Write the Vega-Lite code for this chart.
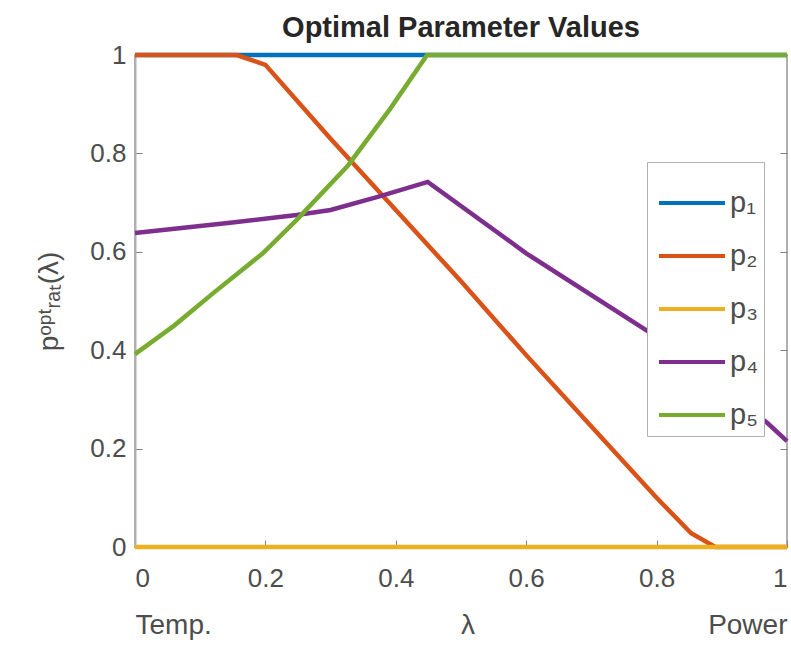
{
  "$schema": "https://vega.github.io/schema/vega-lite/v6.json",
  "width": 652,
  "height": 492,
  "autosize": {"type": "none"},
  "padding": {"left": 135, "top": 55, "right": 4, "bottom": 103},
  "background": "white",
  "title": {"text": "Optimal Parameter Values", "fontSize": 29, "fontWeight": "bold", "font": "Liberation Sans", "color": "#262626", "offset": -1, "anchor": "middle"},
  "config": {
    "view": {"stroke": "#b0b0b0", "strokeWidth": 2},
    "font": "Liberation Sans",
    "axis": {"grid": false, "labelFont": "Liberation Sans", "titleFont": "Liberation Sans", "labelColor": "#4d4d4d", "titleColor": "#4d4d4d", "domainColor": "#b0b0b0", "domainWidth": 2, "tickColor": "#808080", "labelFontSize": 26, "titleFontSize": 26, "titleFontWeight": "normal"}
  },
  "data": {"values": [
    {"lam": 0, "val": 1, "series": "p₁"},
    {"lam": 1, "val": 1, "series": "p₁"},
    {"lam": 0, "val": 1, "series": "p₂"},
    {"lam": 0.156, "val": 1, "series": "p₂"},
    {"lam": 0.2, "val": 0.98, "series": "p₂"},
    {"lam": 0.3, "val": 0.83, "series": "p₂"},
    {"lam": 0.4, "val": 0.685, "series": "p₂"},
    {"lam": 0.5, "val": 0.54, "series": "p₂"},
    {"lam": 0.6, "val": 0.39, "series": "p₂"},
    {"lam": 0.7, "val": 0.245, "series": "p₂"},
    {"lam": 0.8, "val": 0.1, "series": "p₂"},
    {"lam": 0.853, "val": 0.028, "series": "p₂"},
    {"lam": 0.89, "val": 0, "series": "p₂"},
    {"lam": 1, "val": 0, "series": "p₂"},
    {"lam": 0, "val": 0, "series": "p₃"},
    {"lam": 1, "val": 0, "series": "p₃"},
    {"lam": 0, "val": 0.638, "series": "p₄"},
    {"lam": 0.146, "val": 0.659, "series": "p₄"},
    {"lam": 0.248, "val": 0.675, "series": "p₄"},
    {"lam": 0.3, "val": 0.685, "series": "p₄"},
    {"lam": 0.371, "val": 0.711, "series": "p₄"},
    {"lam": 0.449, "val": 0.742, "series": "p₄"},
    {"lam": 0.6, "val": 0.597, "series": "p₄"},
    {"lam": 0.785, "val": 0.44, "series": "p₄"},
    {"lam": 0.97, "val": 0.252, "series": "p₄"},
    {"lam": 1, "val": 0.215, "series": "p₄"},
    {"lam": 0, "val": 0.392, "series": "p₅"},
    {"lam": 0.06, "val": 0.45, "series": "p₅"},
    {"lam": 0.12, "val": 0.516, "series": "p₅"},
    {"lam": 0.196, "val": 0.597, "series": "p₅"},
    {"lam": 0.248, "val": 0.665, "series": "p₅"},
    {"lam": 0.327, "val": 0.776, "series": "p₅"},
    {"lam": 0.391, "val": 0.89, "series": "p₅"},
    {"lam": 0.448, "val": 1, "series": "p₅"},
    {"lam": 1, "val": 1, "series": "p₅"}
  ]},
  "resolve": {"axis": {"x": "independent", "y": "independent"}},
  "layer": [
    {
      "mark": {"type": "line", "strokeWidth": 4.5, "clip": false},
      "encoding": {
        "x": {"field": "lam", "type": "quantitative", "scale": {"domain": [0, 1], "nice": false}, "axis": {"orient": "bottom", "values": [0, 0.2, 0.4, 0.6, 0.8, 1], "format": "~g", "title": null, "tickSize": -7, "labelPadding": 25}},
        "y": {"field": "val", "type": "quantitative", "scale": {"domain": [0, 1], "nice": false}, "axis": {"orient": "left", "values": [0, 0.2, 0.4, 0.6, 0.8, 1], "format": "~g", "title": "pᵒᵖᵗᵣₐₜ(λ)", "titleFontSize": 28, "tickSize": -7, "labelPadding": 16, "titlePadding": 26}},
        "color": {"field": "series", "type": "nominal", "scale": {"domain": ["p₁", "p₂", "p₃", "p₄", "p₅"], "range": ["#0072BD", "#D95319", "#EDB120", "#7E2F8E", "#77AC30"]},
          "legend": {"title": null, "orient": "none", "legendX": 512, "legendY": 107, "symbolType": "stroke", "symbolSize": 4356, "symbolStrokeWidth": 4, "symbolOffset": 4, "labelFontSize": 29, "labelFont": "Liberation Sans", "labelColor": "#4d4d4d", "rowPadding": 3, "padding": 6, "strokeColor": "#b0b0b0", "fillColor": "white", "labelOffset": 3}},
        "order": {"field": "series"}
      }
    },
    {
      "mark": {"type": "point", "opacity": 0},
      "encoding": {
        "x": {"field": "lam", "type": "quantitative", "scale": {"domain": [0, 1], "nice": false}, "axis": {"orient": "bottom", "values": [0, 0.51, 1], "labelExpr": "datum.value == 0 ? 'Temp.' : datum.value == 1 ? 'Power' : 'λ'", "labelFontSize": 28, "labelFlush": true, "domain": false, "ticks": false, "offset": 64, "title": null, "labelPadding": 0}},
        "y": {"field": "val", "type": "quantitative", "scale": {"domain": [0, 1], "nice": false}, "axis": {"orient": "right", "values": [0, 0.2, 0.4, 0.6, 0.8, 1], "labels": false, "domain": false, "tickSize": -7, "title": null}}
      }
    }
  ]
}
